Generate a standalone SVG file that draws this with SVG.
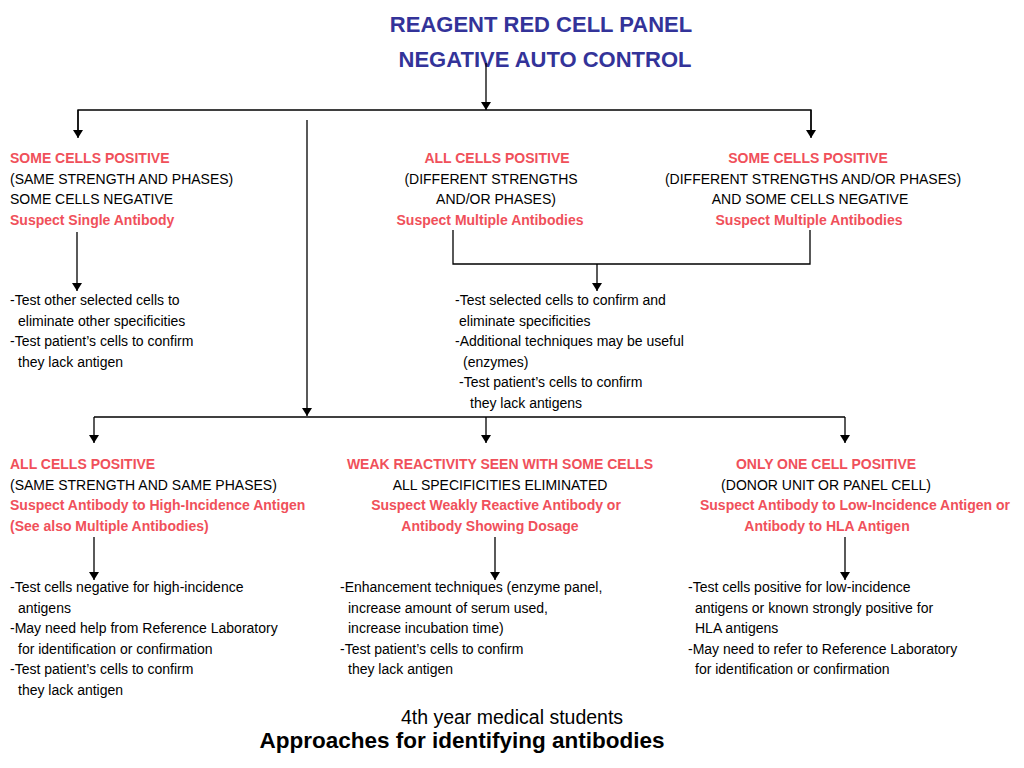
<svg xmlns="http://www.w3.org/2000/svg" width="1024" height="768" viewBox="0 0 1024 768">
<defs>
<marker id="ah" markerWidth="8" markerHeight="10" refX="8" refY="5" orient="auto" markerUnits="userSpaceOnUse" viewBox="0 0 8 10">
<path d="M0,0 L8,5 L0,10 Z" fill="#000"/>
</marker>
<style>
text{font-family:"Liberation Sans",Arial,sans-serif;font-size:14px;fill:#000}
.r{fill:#f0505a;font-weight:bold}
.t{fill:#333399;font-weight:bold;font-size:22px}
.m{text-anchor:middle}
.ln{stroke:#000;stroke-width:1.3;fill:none}
.ar{stroke:#000;stroke-width:1.3;fill:none;marker-end:url(#ah)}
</style>
</defs>
<rect width="1024" height="768" fill="#fff"/>
<g id="title">
<text class="t m" x="541" y="32">REAGENT RED CELL PANEL</text>
<text class="t m" x="545" y="67">NEGATIVE AUTO CONTROL</text>
</g>
<g id="connectors">
<line class="ar" x1="486" y1="63" x2="486" y2="110"/>
<polyline class="ln" points="78,137 78,110 811,110 811,137"/>
<line class="ar" x1="78" y1="110" x2="78" y2="138"/>
<line class="ar" x1="811" y1="110" x2="811" y2="138"/>
<line class="ar" x1="307" y1="120" x2="307" y2="416"/>
<line class="ar" x1="77" y1="232" x2="77" y2="291"/>
<polyline class="ln" points="453,230 453,264 810,264 810,230"/>
<line class="ar" x1="597" y1="264" x2="597" y2="291"/>
<line class="ln" x1="94" y1="417" x2="845" y2="417"/>
<line class="ar" x1="94" y1="417" x2="94" y2="443"/>
<line class="ar" x1="486" y1="417" x2="486" y2="443"/>
<line class="ar" x1="845" y1="417" x2="845" y2="443"/>
<line class="ar" x1="94" y1="537" x2="94" y2="580"/>
<line class="ar" x1="495" y1="537" x2="495" y2="580"/>
<line class="ar" x1="845" y1="537" x2="845" y2="580"/>
</g>
<g id="node-single">
<text class="r" x="10" y="163">SOME CELLS POSITIVE</text>
<text x="10" y="184">(SAME STRENGTH AND PHASES)</text>
<text x="10" y="204">SOME CELLS NEGATIVE</text>
<text class="r" x="10" y="225">Suspect Single Antibody</text>
</g>
<g id="node-allpos">
<text class="r m" x="497" y="163">ALL CELLS POSITIVE</text>
<text class="m" x="491" y="184">(DIFFERENT STRENGTHS</text>
<text class="m" x="496" y="204">AND/OR PHASES)</text>
<text class="r m" x="490" y="225">Suspect Multiple Antibodies</text>
</g>
<g id="node-somepos">
<text class="r m" x="808" y="163">SOME CELLS POSITIVE</text>
<text class="m" x="813" y="184">(DIFFERENT STRENGTHS AND/OR PHASES)</text>
<text class="m" x="810" y="204">AND SOME CELLS NEGATIVE</text>
<text class="r m" x="809" y="225">Suspect Multiple Antibodies</text>
</g>
<g id="node-single-tests">
<text x="10" y="305">-Test other selected cells to</text>
<text x="18" y="326">eliminate other specificities</text>
<text x="10" y="346">-Test patient’s cells to confirm</text>
<text x="18" y="367">they lack antigen</text>
</g>
<g id="node-multi-tests">
<text x="455" y="305">-Test selected cells to confirm and</text>
<text x="459" y="326">eliminate specificities</text>
<text x="455" y="346">-Additional techniques may be useful</text>
<text x="463" y="367">(enzymes)</text>
<text x="459" y="387">-Test patient’s cells to confirm</text>
<text x="470" y="408">they lack antigens</text>
</g>
<g id="node-high">
<text class="r" x="10" y="469">ALL CELLS POSITIVE</text>
<text x="10" y="490">(SAME STRENGTH AND SAME PHASES)</text>
<text class="r" x="10" y="510">Suspect Antibody to High-Incidence Antigen</text>
<text class="r" x="10" y="531">(See also Multiple Antibodies)</text>
</g>
<g id="node-weak">
<text class="r m" x="500" y="469">WEAK REACTIVITY SEEN WITH SOME CELLS</text>
<text class="m" x="500" y="490">ALL SPECIFICITIES ELIMINATED</text>
<text class="r m" x="496" y="510">Suspect Weakly Reactive Antibody or</text>
<text class="r m" x="490" y="531">Antibody Showing Dosage</text>
</g>
<g id="node-low">
<text class="r m" x="826" y="469">ONLY ONE CELL POSITIVE</text>
<text class="m" x="826" y="490">(DONOR UNIT OR PANEL CELL)</text>
<text class="r m" x="855" y="510">Suspect Antibody to Low-Incidence Antigen or</text>
<text class="r m" x="827" y="531">Antibody to HLA Antigen</text>
</g>
<g id="node-high-tests">
<text x="10" y="592">-Test cells negative for high-incidence</text>
<text x="18" y="613">antigens</text>
<text x="10" y="633">-May need help from Reference Laboratory</text>
<text x="18" y="654">for identification or confirmation</text>
<text x="10" y="674">-Test patient’s cells to confirm</text>
<text x="18" y="695">they lack antigen</text>
</g>
<g id="node-weak-tests">
<text x="340" y="592">-Enhancement techniques (enzyme panel,</text>
<text x="348" y="613">increase amount of serum used,</text>
<text x="348" y="633">increase incubation time)</text>
<text x="340" y="654">-Test patient’s cells to confirm</text>
<text x="348" y="674">they lack antigen</text>
</g>
<g id="node-low-tests">
<text x="688" y="592">-Test cells positive for low-incidence</text>
<text x="695" y="613">antigens or known strongly positive for</text>
<text x="695" y="633">HLA antigens</text>
<text x="688" y="654">-May need to refer to Reference Laboratory</text>
<text x="695" y="674">for identification or confirmation</text>
</g>
<g id="footer">
<text class="m" x="512" y="724" style="font-size:19.5px">4th year medical students</text>
<text class="m" x="462" y="748" style="font-size:22.5px;font-weight:bold">Approaches for identifying antibodies</text>
</g>
</svg>
